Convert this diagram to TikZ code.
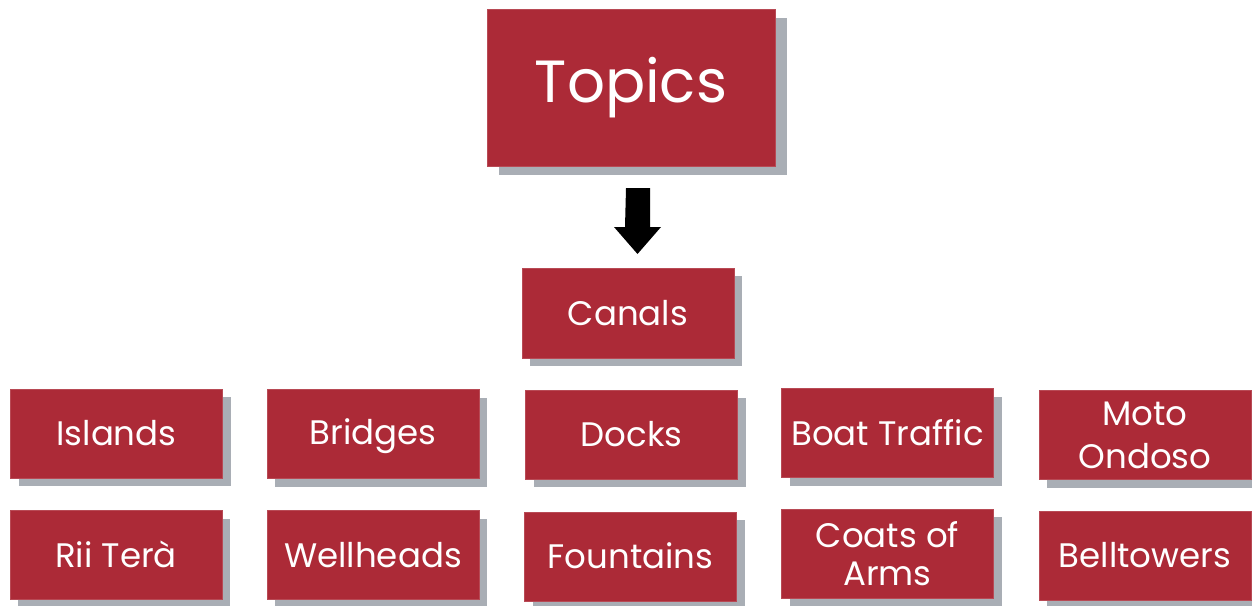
\documentclass[tikz,border=0pt]{standalone}
\usepackage{fontspec}
\setmainfont{Poppins}
\definecolor{boxred}{HTML}{AC2A37}
\definecolor{shadowgray}{HTML}{A9AEB5}
\tikzset{
  topicbox/.style={fill=boxred, draw=boxred!85!white, line width=0.6pt, text=white,
    align=center, inner sep=0pt},
  boxshadow/.style={fill=shadowgray},
}
% a box with a grey drop shadow:
% name, centre, width, height, text, font size, leading, shadow dx, shadow dy
\newcommand{\shadowbox}[9]{%
  \fill[boxshadow] ([shift={(#8pt,-#9pt)}]#2) ++(-#3/2,-#4/2) rectangle ++(#3,#4);
  \node[topicbox, minimum width=#3pt, minimum height=#4pt,
    font=\fontsize{#6}{#7}\selectfont] (#1) at (#2) {#5};
}
% strut that keeps single-line labels on a common baseline
\newcommand{\lblstrut}{\rule[-6pt]{0pt}{36pt}}
\begin{document}
\begin{tikzpicture}[x=1pt,y=-1pt]
\useasboundingbox (0,0) rectangle (1252,605);
\fill[white] (0,0) rectangle (1252,605);

% title and the subject under it
\shadowbox{topics}{631,87.5}{288}{157}{\rule[-10pt]{0pt}{49pt}Topics}{59.5}{70}{12}{9}
\shadowbox{canals}{628,313}{212}{90}{\lblstrut Canals}{34}{40}{8}{8}

% grid of sub-topics
\shadowbox{islands}{116.5,433.5}{212}{89}{\lblstrut Islands}{34}{40}{8}{8}
\shadowbox{bridges}{373,434}{212}{89}{\lblstrut Bridges}{34}{40}{8}{8}
\shadowbox{docks}{631.5,434.5}{212}{89}{\lblstrut Docks}{34}{40}{8}{8}
\shadowbox{boat}{887.5,433}{212}{89}{\lblstrut Boat Traffic}{34}{40}{8}{8}
\shadowbox{moto}{1145,435}{212}{89}{Moto\\Ondoso}{34}{43}{8}{8}

\shadowbox{rii}{116,555}{212}{89}{\lblstrut Rii Terà}{34}{40}{8}{8}
\shadowbox{well}{373,555}{212}{89}{\lblstrut Wellheads}{34}{40}{8}{8}
\shadowbox{fount}{630.5,556.5}{212}{89}{\lblstrut Fountains}{34}{40}{8}{8}
\shadowbox{coats}{887.5,553.5}{212}{89}{Coats of\\Arms}{34}{38}{8}{8}
\shadowbox{bell}{1145,555.5}{212}{89}{\lblstrut Belltowers}{34}{40}{8}{8}

% block arrow from the title towards the subject
\coordinate (arrtop) at (638,188);
\coordinate (arrtip) at (637.5,254);
\fill[black] (arrtop) ++(-12,0) -- ++(24,0) -- ++(0,39) -- ++(11,0)
  -- (arrtip) -- ++(-23.5,-27) -- ++(11,0) -- cycle;
\end{tikzpicture}
\end{document}
